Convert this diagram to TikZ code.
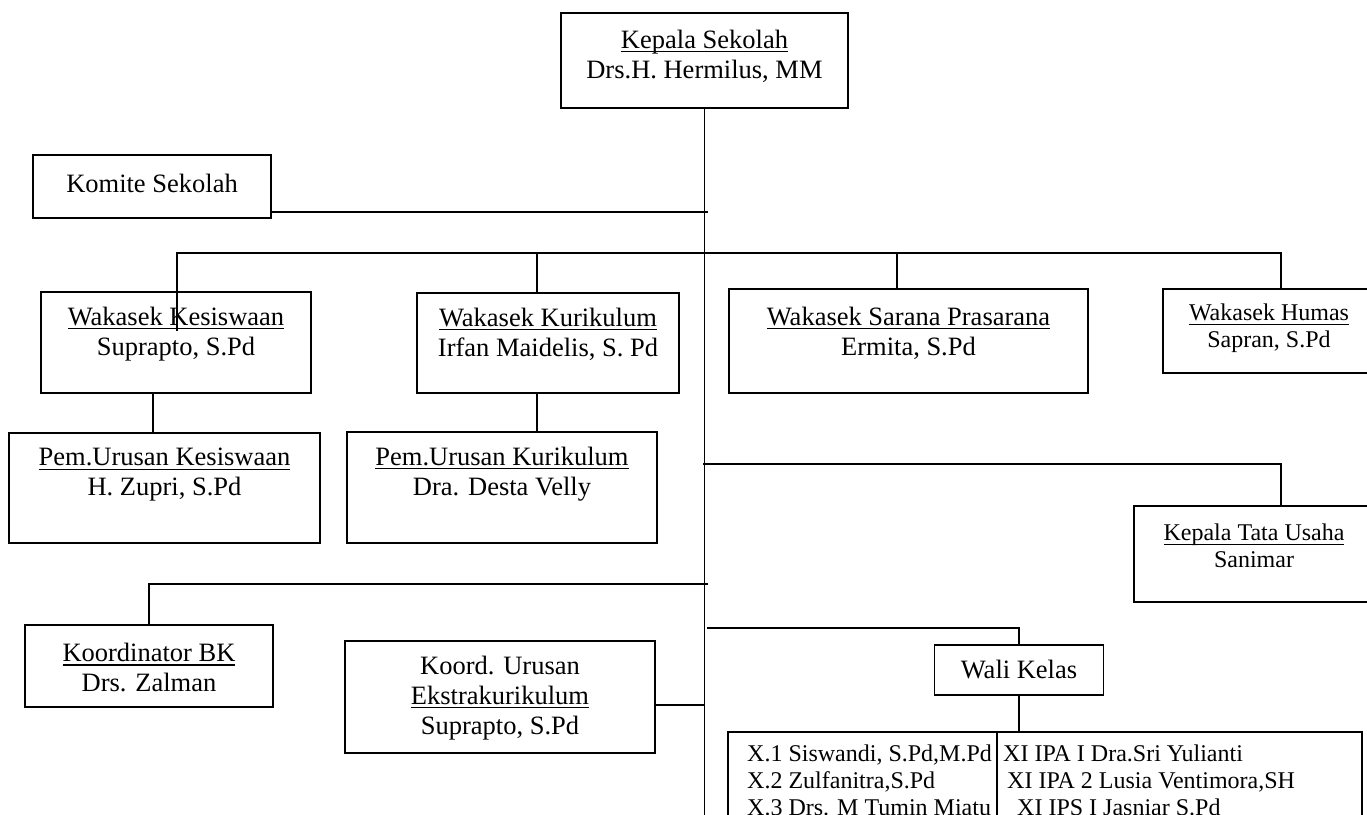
\documentclass[tikz,border=0pt]{standalone}
\usepackage{fontspec}
\setmainfont{Liberation Serif}
\usetikzlibrary{positioning}
\newlength{\jablen}
\newcommand{\jab}[1]{\settowidth{\jablen}{#1}\rlap{\rule[-4pt]{\jablen}{1.2pt}}#1}
\tikzset{
  kotak/.style={draw, line width=1.8pt, inner sep=0pt},
  teks/.style={align=center, inner sep=0pt, font=\fontsize{26.5}{30}\selectfont},
  kecil/.style={align=center, inner sep=0pt, font=\fontsize{24}{27}\selectfont},
  garis/.style={line width=1.8pt},
}

\begin{document}
\begin{tikzpicture}[x=1pt, y=-1pt]
  \useasboundingbox (0,0) rectangle (1367,814);
  \clip (0,0) rectangle (1367,814);

  \node[kotak, minimum width=287pt, minimum height=95pt]  (kepala) at (704.5,60.5) {};
  \node[kotak, minimum width=238pt, minimum height=63pt]  (komite) at (152,186.5) {};
  \node[kotak, minimum width=270pt, minimum height=101pt] (wkes)   at (176,342.5) {};
  \node[kotak, minimum width=262pt, minimum height=100pt] (wkur)   at (548,343) {};
  \node[kotak, minimum width=359pt, minimum height=104pt] (wsar)   at (908.5,341) {};
  \node[kotak, minimum width=212pt, minimum height=84pt]  (whum)   at (1269,331) {};
  \node[kotak, minimum width=311pt, minimum height=110pt] (pkes)   at (164.5,488) {};
  \node[kotak, minimum width=310pt, minimum height=111pt] (pkur)   at (502,487.5) {};
  \node[kotak, minimum width=240pt, minimum height=96pt]  (ktu)    at (1254,554) {};
  \node[kotak, minimum width=248pt, minimum height=82pt]  (kbk)    at (149,666) {};
  \node[kotak, minimum width=310pt, minimum height=112pt] (keks)   at (500,697) {};
  \node[kotak, minimum width=169pt, minimum height=50pt]  (wali)   at (1019,670) {};
  \node[kotak, minimum width=634pt, minimum height=168pt] (daftar) at (1045,816) {};

  \node[teks]  (kepalaT) at ([yshift=4.5pt]kepala.center) {\jab{Kepala Sekolah}\\Drs.H. Hermilus, MM};
  \node[teks]  (komiteT) at ([yshift=3.5pt]komite.center) {Komite Sekolah};
  \node[teks]  (wkesT)   at ([yshift=8.5pt]wkes.center)   {\jab{Wakasek Kesiswaan}\\Suprapto, S.Pd};
  \node[teks]  (wkurT)   at ([yshift=9pt]wkur.center)     {\jab{Wakasek Kurikulum}\\Irfan Maidelis, S. Pd};
  \node[teks]  (wsarT)   at ([yshift=8pt]wsar.center)     {\jab{Wakasek Sarana Prasarana}\\Ermita, S.Pd};
  \node[kecil] (whumT)   at ([yshift=2.5pt]whum.center)   {\jab{Wakasek Humas}\\Sapran, S.Pd};
  \node[teks]  (pkesT)   at ([yshift=13pt]pkes.center)    {\jab{Pem.Urusan Kesiswaan}\\H. Zupri, S.Pd};
  \node[teks]  (pkurT)   at ([yshift=13.5pt]pkur.center)  {\jab{Pem.Urusan Kurikulum}\\Dra. Desta Velly};
  \node[kecil] (ktuT)    at ([yshift=8pt]ktu.center)      {\jab{Kepala Tata Usaha}\\Sanimar};
  \node[teks]  (kbkT)    at ([yshift=-1.5pt]kbk.center)   {\jab{Koordinator BK}\\Drs. Zalman};
  \node[teks]  (keksT)   at ([yshift=-1pt]keks.center)    {Koord. Urusan\\\jab{Ekstrakurikulum}\\Suprapto, S.Pd};
  \node[teks]  (waliT)   at ([yshift=1pt]wali.center)     {Wali Kelas};
  \node[kecil, align=left, anchor=north west] (kiri)  at (747,745)
    {X.1 Siswandi, S.Pd,M.Pd\\X.2 Zulfanitra,S.Pd\\X.3 Drs. M Tumin Miatu};
  \node[kecil, align=left, anchor=north west] (kanan) at (1003,745)
    {XI IPA I Dra.Sri Yulianti\\\hspace*{4pt}XI IPA 2 Lusia Ventimora,SH\\\hspace*{14pt}XI IPS I Jasniar S.Pd};

  \coordinate (bawah) at (703,830);
  \coordinate (tKom)  at (708,212);
  \coordinate (busL)  at (177,253);
  \coordinate (busK)  at (537,253);
  \coordinate (busS)  at (897,253);
  \coordinate (busR)  at (1281,253);
  \coordinate (tTU)   at (703,464);
  \coordinate (tBK)   at (708,584);
  \coordinate (tWK)   at (707,628);
  \coordinate (kesIn) at ([yshift=-40pt]wkes.north);
  \coordinate (kesB)  at ([xshift=-23pt]wkes.south);
  \coordinate (kurB)  at ([xshift=-11pt]wkur.south);
  \coordinate (eksR)  at ([yshift=-8pt]keks.east);
  \coordinate (bagi)  at ([xshift=-48pt]daftar.north);

  \draw[garis] (kepala.south) -- (kepala.south |- bawah);
  \draw[garis] (komite.east |- tKom) -- (tKom);
  \draw[garis] (busL |- kesIn) -- (busL) -- (busR) -- (busR |- whum.north);
  \draw[garis] (busK) -- (busK |- wkur.north);
  \draw[garis] (busS) -- (busS |- wsar.north);
  \draw[garis] (kesB) -- (kesB |- pkes.north);
  \draw[garis] (kurB) -- (kurB |- pkur.north);
  \draw[garis] (tTU) -| (busR |- ktu.north);
  \draw[garis] (tBK) -| (kbk.north);
  \draw[garis] (eksR) -- (eksR -| kepala.south);
  \draw[garis] (tWK) -| (wali.north);
  \draw[garis] (wali.south) -- (wali.south |- daftar.north);
  \draw[garis] (bagi) -- (bagi |- daftar.south);
\end{tikzpicture}
\end{document}
